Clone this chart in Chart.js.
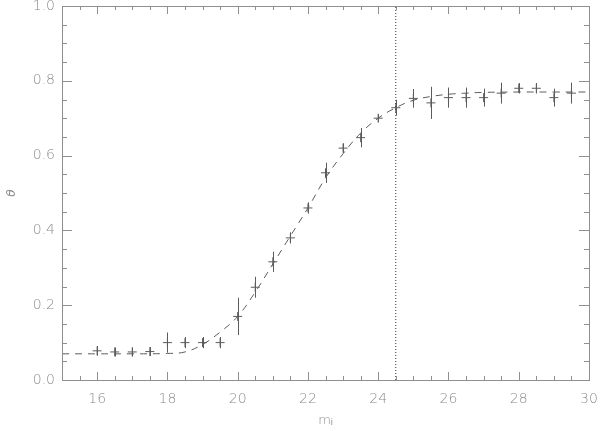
<!DOCTYPE html>
<html>
<head>
<meta charset="utf-8">
<script src="https://cdn.jsdelivr.net/npm/chart.js@4"></script>
<style>
  html, body { margin: 0; padding: 0; background: #fff; }
</style>
</head>
<body>
<canvas id="chart" width="600" height="431"></canvas>
<script>
// measured points (m_i bins) with error bars
const magBins = [16, 16.5, 17, 17.5, 18, 18.5, 19, 19.5, 20, 20.5, 21, 21.5, 22, 22.5,
                 23, 23.5, 24, 24.5, 25, 25.5, 26, 26.5, 27, 27.5, 28, 28.5, 29, 29.5];
const theta = [0.078, 0.075, 0.075, 0.076, 0.100, 0.100, 0.100, 0.100, 0.170, 0.248, 0.316, 0.380, 0.460, 0.554,
               0.620, 0.648, 0.700, 0.728, 0.753, 0.741, 0.755, 0.755, 0.755, 0.767, 0.780, 0.780, 0.755, 0.767];
const thetaErr = [0.013, 0.012, 0.012, 0.012, 0.027, 0.015, 0.015, 0.015, 0.050, 0.028, 0.027, 0.015, 0.015, 0.027,
                  0.013, 0.026, 0.010, 0.021, 0.025, 0.043, 0.027, 0.027, 0.024, 0.028, 0.014, 0.014, 0.024, 0.028];

// dashed fit curve
const fitX = [15, 16, 17, 18, 18.5, 19, 19.5, 20, 20.5, 21, 21.5, 22, 22.5, 23, 23.5, 24, 24.5, 25, 25.5, 26, 26.5, 27, 28, 29, 30];
const fitY = [0.070, 0.070, 0.070, 0.071, 0.075, 0.095, 0.128, 0.170, 0.235, 0.310, 0.385, 0.460, 0.540, 0.605,
              0.660, 0.700, 0.728, 0.748, 0.758, 0.764, 0.767, 0.769, 0.770, 0.770, 0.770];

// completeness limit
const limitMag = 24.5;

const xTicks = [16, 18, 20, 22, 24, 26, 28, 30];
const yTicks = [0.0, 0.2, 0.4, 0.6, 0.8, 1.0];

const axisColor = '#8f8f8f';
const textColor = '#8c8c8c';
const markColor = '#5c5c5c';
const fontFamily = "'DejaVu Sans', sans-serif";

// draws vertical error bars + the inward IDL-style ticks on all four sides
const idlAxes = {
    id: 'idlAxes',
    afterDatasetsDraw(chart) {
        const ctx = chart.ctx;
        const xs = chart.scales.x, ys = chart.scales.y;
        const a = chart.chartArea;

        ctx.save();
        ctx.strokeStyle = markColor;
        ctx.lineWidth = 1;
        magBins.forEach((m, i) => {
            const px = Math.round(xs.getPixelForValue(m)) + 0.5;
            ctx.beginPath();
            ctx.moveTo(px, ys.getPixelForValue(theta[i] - thetaErr[i]));
            ctx.lineTo(px, ys.getPixelForValue(theta[i] + thetaErr[i]));
            ctx.stroke();
        });

        ctx.strokeStyle = axisColor;
        ctx.strokeRect(Math.round(a.left) + 0.5, Math.round(a.top) + 0.5,
                       Math.round(a.right - a.left), Math.round(a.bottom - a.top));

        ctx.beginPath();
        for (let v = 15; v <= 30.001; v += 0.5) {
            const px = Math.round(xs.getPixelForValue(v)) + 0.5;
            const len = Math.abs(v % 2) < 1e-6 ? 8 : 4;
            ctx.moveTo(px, a.bottom); ctx.lineTo(px, a.bottom - len);
            ctx.moveTo(px, a.top); ctx.lineTo(px, a.top + len);
        }
        for (let k = 0; k <= 20; k++) {
            const v = k * 0.05;
            const py = Math.round(ys.getPixelForValue(v)) + 0.5;
            const len = k % 4 === 0 ? 10 : 5;
            ctx.moveTo(a.left, py); ctx.lineTo(a.left + len, py);
            ctx.moveTo(a.right, py); ctx.lineTo(a.right - len, py);
        }
        ctx.stroke();
        ctx.restore();
    }
};

const ctx = document.getElementById('chart').getContext('2d');
new Chart(ctx, {
    type: 'scatter',
    data: {
        datasets: [
            {
                label: 'fit',
                type: 'line',
                data: fitX.map((x, i) => ({ x: x, y: fitY[i] })),
                borderColor: markColor,
                borderWidth: 1,
                borderDash: [7, 6],
                pointRadius: 0,
                tension: 0.4,
                fill: false
            },
            {
                label: 'limit',
                type: 'line',
                data: [{ x: limitMag, y: 0 }, { x: limitMag, y: 1 }],
                borderColor: '#333333',
                borderWidth: 1,
                borderDash: [1, 2],
                pointRadius: 0,
                fill: false
            },
            {
                label: 'theta',
                data: magBins.map((x, i) => ({ x: x, y: theta[i] })),
                pointStyle: 'cross',
                pointRadius: 4.5,
                borderColor: markColor,
                backgroundColor: markColor,
                borderWidth: 1
            }
        ]
    },
    options: {
        responsive: false,
        animation: false,
        layout: { padding: { left: 0, top: 6, right: 11, bottom: 0 } },
        plugins: {
            legend: { display: false },
            tooltip: { enabled: false }
        },
        scales: {
            x: {
                type: 'linear',
                min: 15,
                max: 30,
                afterBuildTicks: s => { s.ticks = xTicks.map(v => ({ value: v })); },
                afterFit: s => { s.height = 51; s.paddingLeft = 0; s.paddingRight = 0; },
                grid: { display: false, drawTicks: false },
                border: { display: false },
                ticks: {
                    padding: 11,
                    color: textColor,
                    font: { family: fontFamily, size: 14, weight: '200' }
                },
                title: {
                    display: true,
                    text: 'mᵢ',
                    color: textColor,
                    padding: { top: 0, bottom: 3 },
                    font: { family: fontFamily, size: 13, weight: '200' }
                }
            },
            y: {
                type: 'linear',
                min: 0,
                max: 1,
                afterBuildTicks: s => { s.ticks = yTicks.map(v => ({ value: v })); },
                afterFit: s => { s.width = 62; s.paddingTop = 0; s.paddingBottom = 0; },
                grid: { display: false, drawTicks: false },
                border: { display: false },
                ticks: {
                    padding: 7,
                    color: textColor,
                    callback: v => Number(v).toFixed(1),
                    font: { family: fontFamily, size: 14, weight: '200' }
                },
                title: {
                    display: true,
                    text: 'θ',
                    color: textColor,
                    padding: { top: 5, bottom: 0 },
                    font: { family: fontFamily, size: 12, style: 'italic', weight: '200' }
                }
            }
        }
    },
    plugins: [idlAxes]
});
</script>
</body>
</html>
